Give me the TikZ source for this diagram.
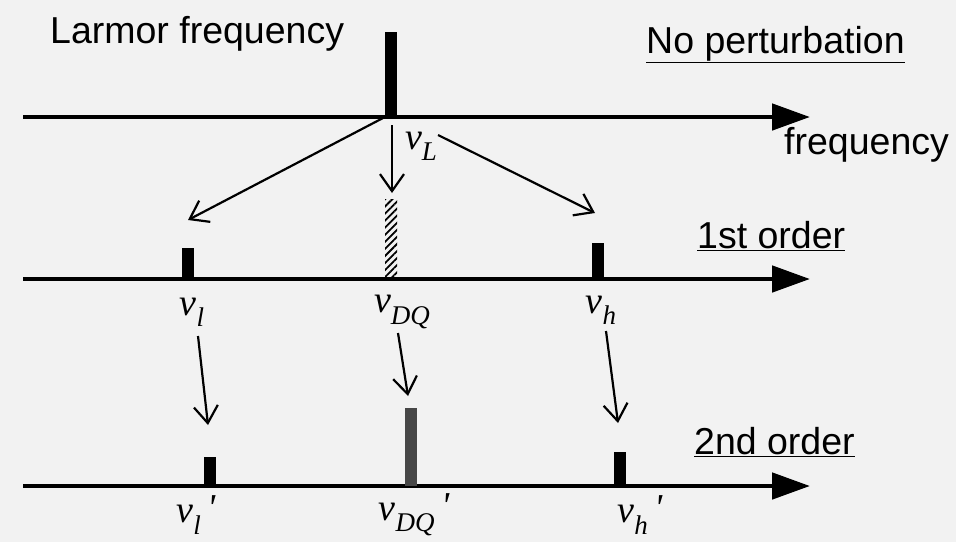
\documentclass[tikz,border=0pt]{standalone}
\usepackage{fontspec}
\setmainfont{Liberation Sans}
\newfontfamily\symfont{Liberation Serif}
\newcommand\nusub[2]{{\symfont\itshape ν\raisebox{-0.3em}{\fontsize{27}{27}\selectfont #1}\raisebox{0.05em}{#2}}}
\usetikzlibrary{arrows.meta,patterns.meta}
\begin{document}
\begin{tikzpicture}[x=1pt,y=-1pt,
  axis/.style={line width=4.8pt,-{Triangle[length=38pt,width=26pt]}},
  conn/.style={line width=2.2pt,-{Straight Barb[length=17pt,width=24pt,line width=2.2pt]}},
  lbl/.style={font=\fontsize{37.5}{39}\selectfont,inner sep=0pt},
  sym/.style={font=\fontsize{38}{40}\selectfont,inner sep=0pt},
  peak/.style={fill=black,draw=none,minimum width=12pt,inner sep=0pt,anchor=south}]
\useasboundingbox[fill=black!5] (0,0) rectangle (956,542);

% axes
\coordinate (a1s) at (23,117); \coordinate (a1e) at (810,117);
\coordinate (a2s) at (23,279); \coordinate (a2e) at (810,279);
\coordinate (a3s) at (23,486); \coordinate (a3e) at (810,486);
\draw[axis] (a1s) -- (a1e);
\draw[axis] (a2s) -- (a2e);
\draw[axis] (a3s) -- (a3e);

% peaks
\node[peak,minimum height=85pt] (p0) at (391,117) {};
\node[peak,fill=none,pattern={Lines[angle=45,distance=5pt,line width=1.8pt]},minimum height=79pt] (p1dq) at (391,279) {};
\node[peak,minimum height=31pt] (p1l) at (188,279) {};
\node[peak,minimum height=36pt] (p1h) at (598,279) {};
\node[peak,minimum height=29pt] (p2l) at (210,486) {};
\node[peak,fill=black!72,minimum height=78pt] (p2dq) at (411,486) {};
\node[peak,minimum height=34pt] (p2h) at (620,486) {};

% texts
\node[lbl,anchor=base west] (larmor) at (50,43) {Larmor frequency};
\node[lbl,anchor=base west] (nopert) at (646,53) {\underline{No perturbation}};
\node[lbl,anchor=base west] (freq) at (784,154) {frequency};
\node[lbl,anchor=base west] (first) at (697,248) {\underline{1st order}};
\node[lbl,anchor=base west] (second) at (694,454) {\underline{2nd order}};

% symbols
\node[sym] (nL) at (421,146) {\nusub{L}{}};
\node[sym] (nl) at (192,312) {\nusub{l}{}};
\node[sym] (nDQ) at (402,312) {\nusub{DQ}{}};
\node[sym] (nh) at (601,310) {\nusub{h}{}};
\node[sym] (nl2) at (196,515) {\nusub{l}{\,'}};
\node[sym] (nDQ2) at (414,515) {\nusub{DQ}{\,'}};
\node[sym] (nh2) at (640,515) {\nusub{h}{\,'}};

% connectors, level 1
\coordinate (L0) at (392,125);
\coordinate (tL) at (392,193);
\coordinate (sl) at (383,118);
\coordinate (tl) at (188,220);
\coordinate (sh) at (438,135);
\coordinate (th) at (595,213);
\draw[conn] (L0) -- (tL);
\draw[conn] (sl) -- (tl);
\draw[conn] (sh) -- (th);

% connectors, level 2
\coordinate (s2l) at (198,336);
\coordinate (t2l) at (208,425);
\coordinate (s2dq) at (398,333);
\coordinate (t2dq) at (408,396);
\coordinate (s2h) at (606,331);
\coordinate (t2h) at (618,423);
\draw[conn] (s2l) -- (t2l);
\draw[conn] (s2dq) -- (t2dq);
\draw[conn] (s2h) -- (t2h);
\end{tikzpicture}
\end{document}
